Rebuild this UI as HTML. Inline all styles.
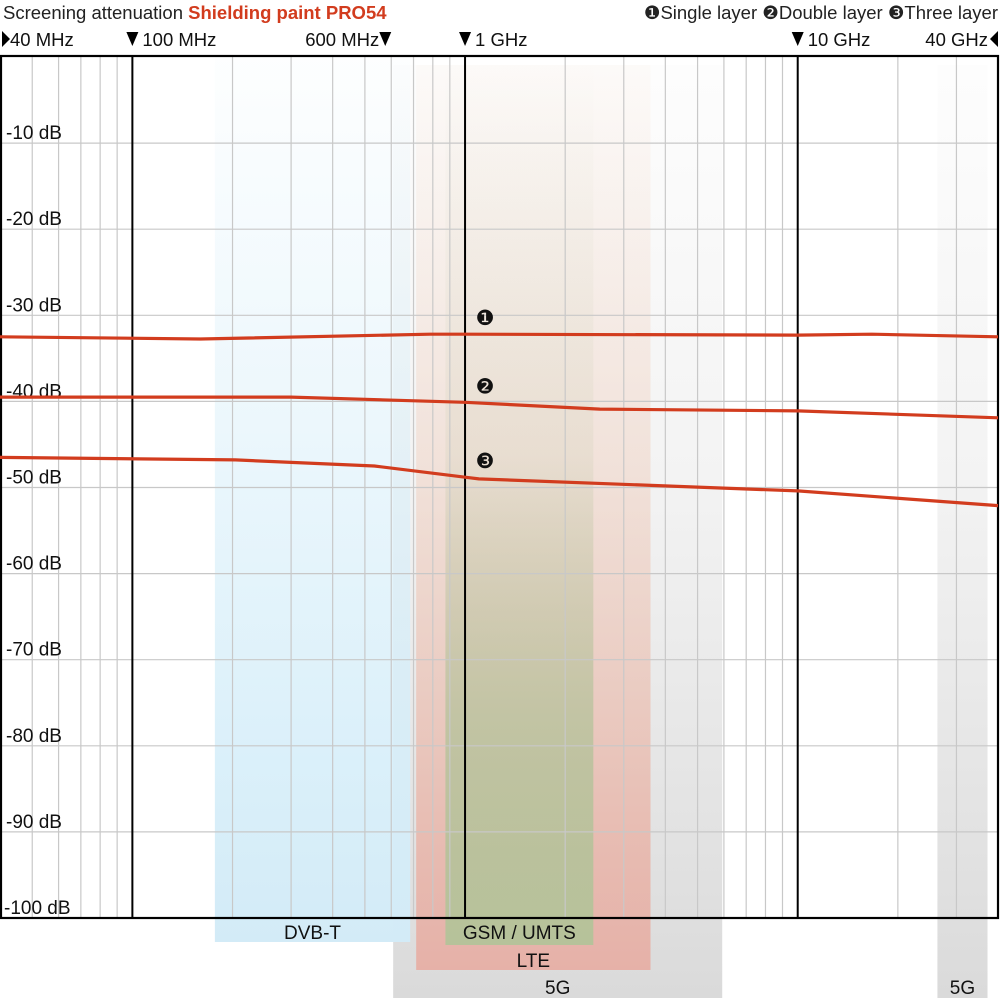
<!DOCTYPE html>
<html><head><meta charset="utf-8"><style>
html,body{margin:0;padding:0;background:#fff;}
svg{display:block;font-family:"Liberation Sans Narrow","Liberation Sans",sans-serif;}
</style></head><body>
<svg id="chart" width="1000" height="1000" viewBox="0 0 1000 1000" xmlns="http://www.w3.org/2000/svg">
<defs>
<linearGradient id="gBlue" x1="0" y1="0" x2="0" y2="1"><stop offset="0" stop-color="#d6eef9" stop-opacity="0.05"/><stop offset="0.4" stop-color="#d6eef9" stop-opacity="0.45"/><stop offset="0.8" stop-color="#d6eef9" stop-opacity="0.9"/><stop offset="1" stop-color="#d3ebf7"/></linearGradient>
<linearGradient id="gGray" x1="0" y1="0" x2="0" y2="1"><stop offset="0" stop-color="#dcdcdc" stop-opacity="0.05"/><stop offset="0.45" stop-color="#dcdcdc" stop-opacity="0.35"/><stop offset="0.85" stop-color="#dcdcdc" stop-opacity="0.85"/><stop offset="1" stop-color="#dadada"/></linearGradient>
<linearGradient id="gRed" x1="0" y1="0" x2="0" y2="1"><stop offset="0" stop-color="#f6dccb" stop-opacity="0.1"/><stop offset="0.45" stop-color="#efcfbf" stop-opacity="0.5"/><stop offset="0.85" stop-color="#e8b8ad" stop-opacity="0.9"/><stop offset="1" stop-color="#e6b1a8"/></linearGradient>
<linearGradient id="gGreen" x1="0" y1="0" x2="0" y2="1"><stop offset="0" stop-color="#b4c29a" stop-opacity="0"/><stop offset="0.45" stop-color="#b4c29a" stop-opacity="0.15"/><stop offset="0.75" stop-color="#b4c29a" stop-opacity="0.75"/><stop offset="1" stop-color="#b6c29a"/></linearGradient>
</defs>
<g id="bands"></g>
<g id="grid"></g>
<g id="series"></g>
<g id="labels"></g>
<text x="3" y="19" font-family="Liberation Sans, sans-serif" font-size="18.5" fill="#222">Screening attenuation <tspan font-weight="bold" fill="#d23c1e">Shielding paint PRO54</tspan></text>
<text x="998" y="19" text-anchor="end" font-family="Liberation Sans, sans-serif" font-size="18.5" fill="#222">❶Single layer ❷Double layer ❸Three layer</text>
</svg>
<script>
const freqTicksMHz = [40, 100, 600, 1000, 10000, 40000];
const freqTickLabels = ["40 MHz", "100 MHz", "600 MHz", "1 GHz", "10 GHz", "40 GHz"];
const dbTicks = [-10, -20, -30, -40, -50, -60, -70, -80, -90, -100];
const s1Freq = [40, 160, 785, 1000, 10000, 16700, 40000];
const s1Db = [-32.5, -32.75, -32.2, -32.2, -32.3, -32.2, -32.5];
const s2Freq = [40, 300, 1000, 2540, 10000, 40000];
const s2Db = [-39.5, -39.5, -40.1, -40.9, -41.1, -41.9];
const s3Freq = [40, 204, 534, 1000, 1100, 10000, 40000];
const s3Db = [-46.5, -46.8, -47.5, -48.8, -49.0, -50.4, -52.1];
const bandNames = ["5G", "DVB-T", "LTE", "GSM/UMTS", "5G"];
const bandFrom = [608, 177, 713, 873, 26300];
const bandTo = [5930, 684, 3610, 2430, 37200];

const NS = "http://www.w3.org/2000/svg";
const L = 0, R = 998, T = 57, B = 918;
const xs = f => L + (Math.log10(f) - Math.log10(40)) / 3 * (R - L);
const ys = d => T + (-d) / 100 * (B - T);
function mk(tag, attrs, parent) { const e = document.createElementNS(NS, tag); for (const k in attrs) e.setAttribute(k, attrs[k]); parent.appendChild(e); return e; }

const bands = document.getElementById('bands');
const bandStyle = [["url(#gGray)", 65, 998, 987], ["url(#gBlue)", 57, 942, 932], ["url(#gRed)", 65, 970, 960], ["url(#gGreen)", 57, 945, 932], ["url(#gGray)", 65, 998, 987]];
bandNames.forEach((n, i) => {
  const [fill, y0, y1, ty] = bandStyle[i];
  const x0 = xs(bandFrom[i]), x1 = xs(bandTo[i]);
  const r = mk('rect', { x: x0, y: y0, width: x1 - x0, height: y1 - y0, fill: fill }, bands);
  
  
  const t = mk('text', { x: (x0 + x1) / 2, y: ty + 7, 'text-anchor': 'middle', 'font-size': '19', fill: '#111' }, document.getElementById('labels'));
  t.textContent = n === "GSM/UMTS" ? "GSM / UMTS" : n;
  
  
});

const grid = document.getElementById('grid');
for (let dec = 10; dec <= 10000; dec *= 10) {
  for (let m = 2; m < 10; m++) {
    const f = dec * m;
    if (f < 40 || f > 40000) continue;
    const l = mk('line', { x1: xs(f), x2: xs(f), y1: T, y2: B, stroke: '#c8c8c8', 'stroke-width': 1.2 }, grid);
    
    
  }
}
dbTicks.forEach(d => {
  if (d > -100) {
    const l = mk('line', { x1: L, x2: R, y1: ys(d), y2: ys(d), stroke: '#c8c8c8', 'stroke-width': 1.2 }, grid);
    
    
  }
  const t = mk('text', { x: d === -100 ? 4 : 6, y: ys(d) - 4, 'font-size': '19', fill: '#111' }, grid);
  t.textContent = d + " dB";
  
  
});
[100, 1000, 10000].forEach(f => {
  const l = mk('line', { x1: xs(f), x2: xs(f), y1: T, y2: B, stroke: '#000', 'stroke-width': 2 }, grid);
  
  
});
const frame = mk('rect', { x: 1, y: T - 1, width: R - 1, height: B - T + 1, fill: 'none', stroke: '#000', 'stroke-width': 2.2 }, grid);



freqTicksMHz.forEach((f, i) => {
  const x = xs(f);
  let txt = freqTickLabels[i], anchor = 'start', tx = x + 10;
  if (i === 0) { tx = 10; }
  else if (i === 2) { anchor = 'end'; tx = x - 12; }
  else if (i === 5) { anchor = 'end'; tx = x - 10; }
  const t = mk('text', { x: tx, y: 46, 'text-anchor': anchor, 'font-family': 'Liberation Sans, sans-serif', 'font-size': '18.5', fill: '#111' }, document.getElementById('labels'));
  t.textContent = txt;
  
  
  let pts;
  if (i === 0) pts = `2,31 2,47 10,39`;
  else if (i === 5) pts = `998,31 998,47 990,39`;
  else if (i === 2) pts = `${x - 12},32 ${x},32 ${x - 6},46`;
  else pts = `${x - 6},32 ${x + 6},32 ${x},46`;
  const p = mk('polygon', { points: pts, fill: '#000' }, document.getElementById('labels'));
  
  
});

const series = document.getElementById('series');
[[s1Freq, s1Db, '❶'], [s2Freq, s2Db, '❷'], [s3Freq, s3Db, '❸']].forEach(([fs, ds, mark], i) => {
  const pts = fs.map((f, j) => xs(f).toFixed(1) + ',' + ys(ds[j]).toFixed(1)).join(' ');
  const pl = mk('polyline', { points: pts, fill: 'none', stroke: '#d23c1e', 'stroke-width': 3.2, 'stroke-linejoin': 'round' }, series);
  
  
  const k = fs.indexOf(1000);
  const t = mk('text', { x: 485, y: ys(ds[k]) - 9, 'text-anchor': 'middle', 'font-family': 'DejaVu Sans, sans-serif', 'font-size': '21', fill: '#111' }, series);
  t.textContent = mark;
  
  
});
</script>
</body></html>
